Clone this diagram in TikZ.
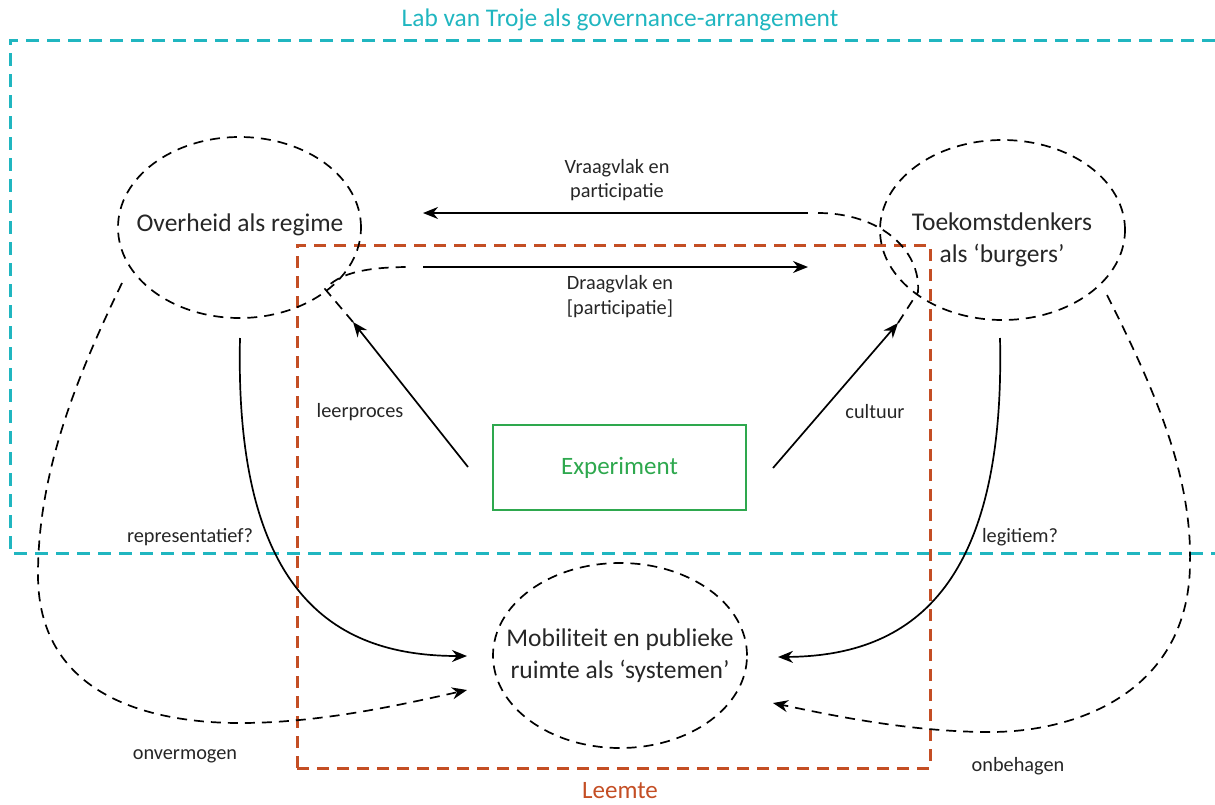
\documentclass[tikz,border=0pt]{standalone}
\usepackage{fontspec}
\setmainfont{Carlito}
\usetikzlibrary{shapes.geometric,arrows.meta,calc}
\definecolor{labteal}{RGB}{32,182,192}
\definecolor{leemte}{RGB}{196,78,36}
\definecolor{expgreen}{RGB}{46,168,78}
\definecolor{txt}{RGB}{38,38,38}
\begin{document}
\begin{tikzpicture}[x=1pt,y=-1pt,
  bigtxt/.style={font=\fontsize{25.5}{32}\selectfont, text=txt, align=center},
  smalltxt/.style={font=\fontsize{20.3}{24.5}\selectfont, text=txt, align=center},
  ell/.style={ellipse, draw=black, line width=1.7pt, dash pattern=on 10pt off 7pt, inner sep=0pt},
  arr/.style={-{Stealth[length=15pt,width=12pt]}, line width=1.7pt, black},
  dasharr/.style={arr, dash pattern=on 10pt off 7pt},
  dline/.style={line width=1.7pt, black, dash pattern=on 10pt off 7pt},
  tealline/.style={draw=labteal, line width=3pt, dash pattern=on 13pt off 8pt},
  leemline/.style={draw=leemte, line width=3pt, dash pattern=on 12pt off 8pt}
]
\useasboundingbox (0,0) rectangle (1215,804);

% frames
\coordinate (tl1) at (1215,40);
\coordinate (tl2) at (10,40);
\coordinate (tl3) at (10,553);
\coordinate (tl4) at (1215,553);
\draw[tealline] (tl1) -- (tl2) -- (tl3) -- (tl4);
\node[font=\fontsize{25.4}{30}\selectfont, text=labteal] (labtitle) at (620,20) {Lab van Troje als governance-arrangement};

\node[leemline, minimum width=633pt, minimum height=523pt, inner sep=0pt] (leembox) at (613.5,506.5) {};
\node[font=\fontsize{25}{30}\selectfont, text=leemte, inner sep=0pt] (leemlabel) at (620,791) {Leemte};

% main nodes
\node[ell, minimum width=243pt, minimum height=181pt] (ov) at (239.5,227.5) {};
\node[bigtxt] (ovtext) at (240,225) {Overheid als regime};
\node[ell, minimum width=245pt, minimum height=180pt] (tk) at (1002.5,230) {};
\node[bigtxt] (tktext) at (1002,240) {Toekomstdenkers\\als ‘burgers’};
\node[ell, minimum width=254pt, minimum height=185pt] (mob) at (620,655.5) {};
\node[bigtxt] (mobtext) at (620,656) {Mobiliteit en publieke\\ruimte als ‘systemen’};
\node[draw=expgreen, line width=2pt, minimum width=253pt, minimum height=85pt, inner sep=0pt, font=\fontsize{25}{30}\selectfont, text=expgreen] (exp) at (619.5,467.5) {Experiment};

% connector end points
\coordinate (vqs) at (808,213);
\coordinate (vqe) at (423,213);
\coordinate (dvs) at (423,267);
\coordinate (dve) at (808,267);
\coordinate (lps) at (468,467);
\coordinate (lpe) at (353,322);
\coordinate (cus) at (773,468);
\coordinate (cue) at (898,323);
\coordinate (lj) at (325,289);
\coordinate (dvd) at (410,267);
\coordinate (rj) at (918,292);
\coordinate (vqd) at (818,213);
\coordinate (reps) at (240,338);
\coordinate (repe) at (467,656);
\coordinate (legs) at (1000,338);
\coordinate (lege) at (778,657);
\coordinate (onvs) at (122,283);
\coordinate (onve) at (467,690);
\coordinate (onbs) at (1107,295);
\coordinate (onbe) at (773,703);

% participation arrows
\draw[arr] (vqs) -- (vqe);
\draw[arr] (dvs) -- (dve);
\node[smalltxt] (vqlabel) at (617,180) {Vraagvlak en\\participatie};
\node[smalltxt] (dvlabel) at (620,296.5) {Draagvlak en\\{[participatie]}};

% experiment arrows
\draw[arr] (lps) -- (lpe);
\draw[arr] (cus) -- (cue);
\node[smalltxt] (lplabel) at (360,412) {leerproces};
\node[smalltxt] (culabel) at (875,412) {cultuur};

% dashed continuations into the ellipses
\draw[dline] (lpe) -- (lj) .. controls (338,275) and (360,267) .. (dvd);
\draw[dline] (cue) -- (rj) .. controls (921,250) and (880,213) .. (vqd);

% solid curves to systems
\draw[arr] (reps) .. controls (234,600) and (340,656) .. (repe);
\draw[arr] (legs) .. controls (1006,600) and (900,656) .. (lege);
\node[smalltxt] (replabel) at (190,537) {representatief?};
\node[smalltxt] (leglabel) at (1020,537) {legitiem?};

% dashed outer curves
\draw[dasharr] (onvs) .. controls (70,390) and (38,480) .. (38,575)
  .. controls (38,690) and (140,723) .. (240,723)
  .. controls (320,723) and (400,705) .. (onve);
\draw[dasharr] (onbs) .. controls (1160,400) and (1192,480) .. (1190,565)
  .. controls (1188,690) and (1080,732) .. (990,732)
  .. controls (910,732) and (830,715) .. (onbe);
\node[smalltxt] (onvlabel) at (185,756) {onvermogen};
\node[smalltxt] (onblabel) at (1018,766) {onbehagen};
\end{tikzpicture}
\end{document}
